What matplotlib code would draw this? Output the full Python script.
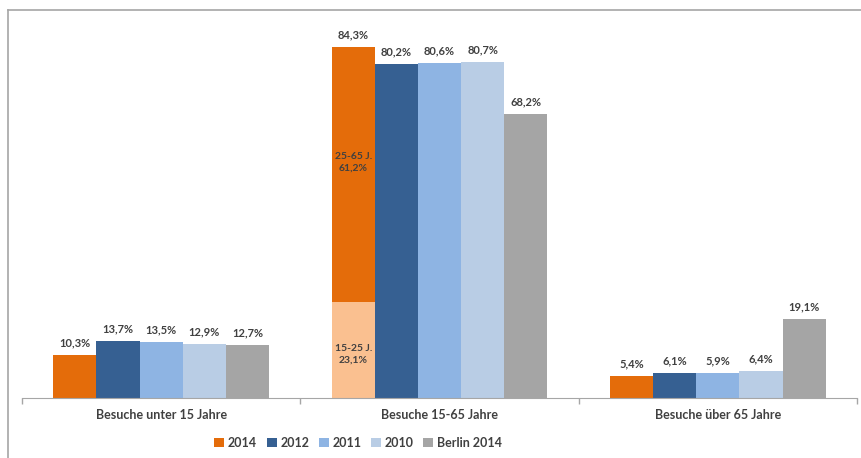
import numpy as np
import matplotlib.pyplot as plt
from matplotlib.lines import Line2D
from matplotlib.patches import Patch

plt.rcParams['font.family'] = ['Lato', 'DejaVu Sans']

# data
categories = ["Besuche unter 15 Jahre", "Besuche 15-65 Jahre", "Besuche über 65 Jahre"]
series = ["2014", "2012", "2011", "2010", "Berlin 2014"]
values = {
    "2014": [10.3, 84.3, 5.4],
    "2012": [13.7, 80.2, 6.1],
    "2011": [13.5, 80.6, 5.9],
    "2010": [12.9, 80.7, 6.4],
    "Berlin 2014": [12.7, 68.2, 19.1],
}
# split of the 2014 bar in the middle group
young_share = 23.1
young_label = "15-25 J."
adult_share = 61.2
adult_label = "25-65 J."

colors = {
    "2014": "#E46C0A",
    "2012": "#366092",
    "2011": "#8EB4E3",
    "2010": "#B9CDE5",
    "Berlin 2014": "#A5A5A5",
}
light_orange = "#FAC090"
text_col = "#404040"
grid_col = "#A6A6A6"

fig = plt.figure(figsize=(8.62, 4.58), dpi=100)
W, H = 862, 458
ax = fig.add_axes([22 / W, 1 - 398 / H, (857 - 22) / W, (398 - 20) / H])

x = np.arange(len(categories))
width = 0.155

for i, s in enumerate(series):
    pos = x + (i - 2) * width
    vals = values[s]
    for j, (p, v) in enumerate(zip(pos, vals)):
        if s == "2014" and j == 1:
            ax.bar(p, young_share, width, color=light_orange, linewidth=0)
            ax.bar(p, adult_share, width, bottom=young_share, color=colors[s], linewidth=0)
            ax.text(p, young_share / 2 - 1, young_label + "\n" + f"{young_share:.1f}%".replace(".", ","),
                    ha="center", va="center", fontsize=7.5, fontweight="bold", color=text_col,
                    linespacing=1.4)
            ax.text(p, young_share + adult_share / 2 + 3,
                    adult_label + "\n" + f"{adult_share:.1f}%".replace(".", ","),
                    ha="center", va="center", fontsize=7.5, fontweight="bold", color=text_col,
                    linespacing=1.4)
        else:
            ax.bar(p, v, width, color=colors[s], linewidth=0)
        ax.text(p, v + 1.6, f"{v:.1f}%".replace(".", ","), ha="center", va="bottom",
                fontsize=8, fontweight="bold", color=text_col)

ax.set_xlim(-0.5, 2.5)
ax.set_ylim(0, 378 / 4.16)
ax.set_yticks([])
ax.set_xticks(x)
ax.set_xticklabels(categories, fontsize=9, fontweight="bold", color=text_col)
ax.tick_params(axis="x", which="major", length=0, pad=8)
ax.set_xticks([-0.5, 0.5, 1.5, 2.5], minor=True)
ax.tick_params(axis="x", which="minor", length=4, color=grid_col, width=1)
for sp in ["top", "right", "left"]:
    ax.spines[sp].set_visible(False)
ax.spines["bottom"].set_color(grid_col)

handles = [Patch(facecolor=colors[s], edgecolor="none") for s in series]
fig.legend(handles, series, loc="center", bbox_to_anchor=(358 / W, 1 - 443 / H), ncol=5,
           frameon=False, prop={"size": 9, "weight": "bold"}, handlelength=0.8,
           handleheight=0.8, handletextpad=0.3, columnspacing=0.75,
           labelcolor=text_col)

# outer frame
fig.add_artist(Line2D([8 / W, 1], [1 - 10 / H, 1 - 10 / H], color=grid_col, lw=1.2,
                      transform=fig.transFigure))
fig.add_artist(Line2D([8 / W, 8 / W], [0, 1 - 10 / H], color=grid_col, lw=1.2,
                      transform=fig.transFigure))

fig.savefig("out.png", dpi=100)
